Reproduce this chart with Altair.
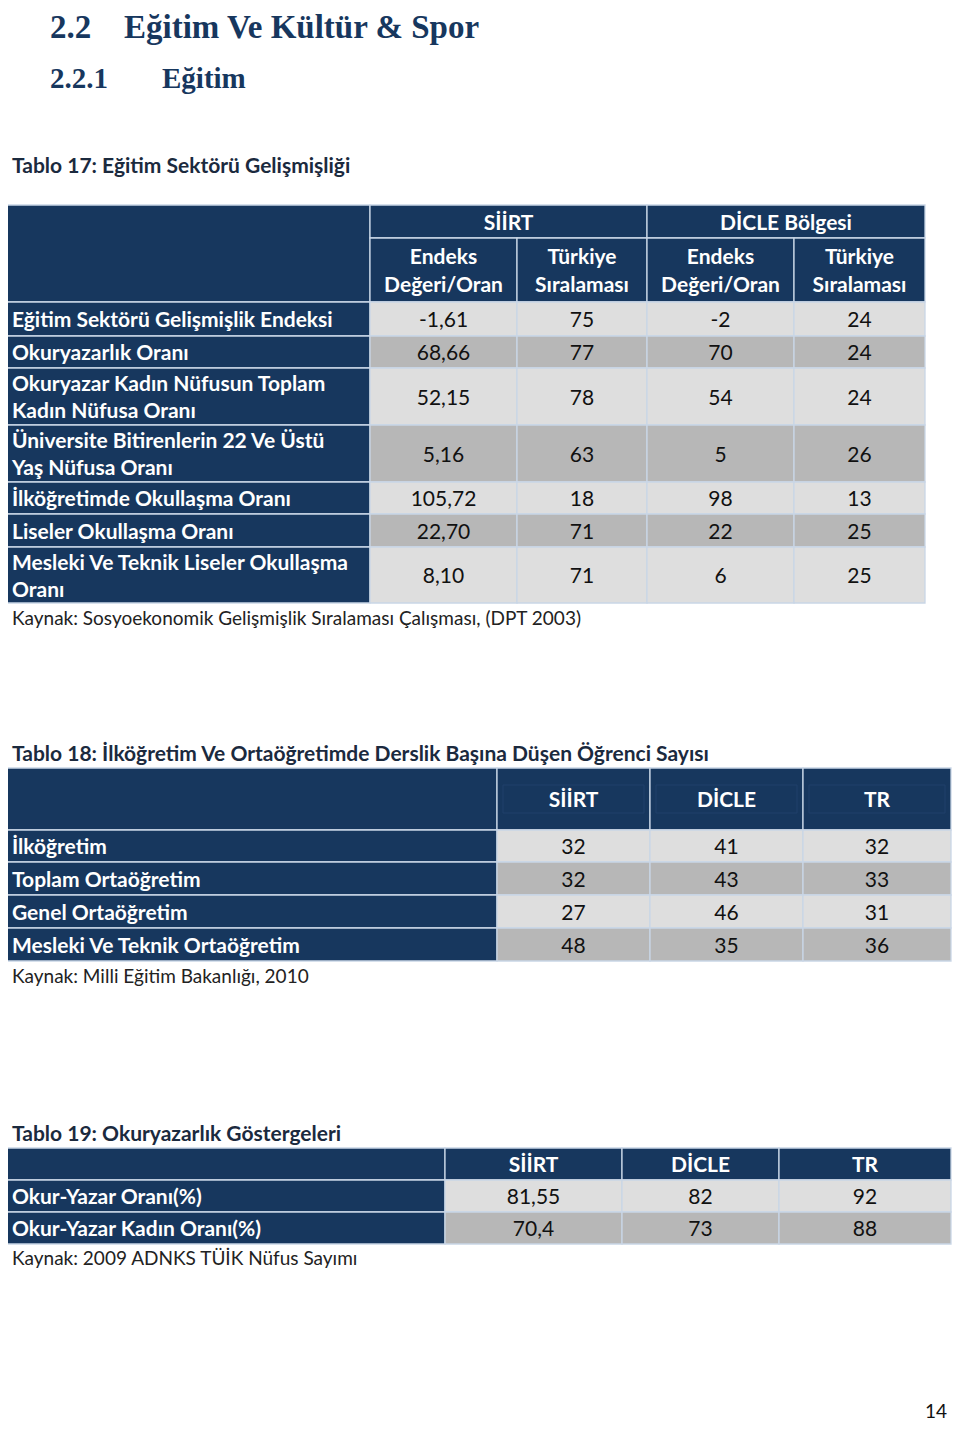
import altair as alt
import pandas as pd

# ---------------- data ----------------
heading_numbers = ["2.2", "2.2.1"]
heading_texts = ["Eğitim Ve Kültür & Spor", "Eğitim"]

t17_title = "Tablo 17: Eğitim Sektörü Gelişmişliği"
t17_groups = ["SİİRT", "DİCLE Bölgesi"]
t17_subheaders = ["Endeks\nDeğeri/Oran", "Türkiye\nSıralaması",
                  "Endeks\nDeğeri/Oran", "Türkiye\nSıralaması"]
t17_labels = [
    "Eğitim Sektörü Gelişmişlik Endeksi",
    "Okuryazarlık Oranı",
    "Okuryazar Kadın Nüfusun Toplam\nKadın Nüfusa Oranı",
    "Üniversite Bitirenlerin 22 Ve Üstü\nYaş Nüfusa Oranı",
    "İlköğretimde Okullaşma Oranı",
    "Liseler Okullaşma Oranı",
    "Mesleki Ve Teknik Liseler Okullaşma\nOranı",
]
t17_siirt_index = ["-1,61", "68,66", "52,15", "5,16", "105,72", "22,70", "8,10"]
t17_siirt_rank = ["75", "77", "78", "63", "18", "71", "71"]
t17_dicle_index = ["-2", "70", "54", "5", "98", "22", "6"]
t17_dicle_rank = ["24", "24", "24", "26", "13", "25", "25"]
t17_source = "Kaynak: Sosyoekonomik Gelişmişlik Sıralaması Çalışması, (DPT 2003)"

t18_title = "Tablo 18: İlköğretim Ve Ortaöğretimde Derslik Başına Düşen Öğrenci Sayısı"
t18_columns = ["SİİRT", "DİCLE", "TR"]
t18_labels = ["İlköğretim", "Toplam Ortaöğretim", "Genel Ortaöğretim",
              "Mesleki Ve Teknik Ortaöğretim"]
t18_siirt = ["32", "32", "27", "48"]
t18_dicle = ["41", "43", "46", "35"]
t18_tr = ["32", "33", "31", "36"]
t18_source = "Kaynak: Milli Eğitim Bakanlığı, 2010"

t19_title = "Tablo 19: Okuryazarlık Göstergeleri"
t19_columns = ["SİİRT", "DİCLE", "TR"]
t19_labels = ["Okur-Yazar Oranı(%)", "Okur-Yazar Kadın Oranı(%)"]
t19_siirt = ["81,55", "70,4"]
t19_dicle = ["82", "73"]
t19_tr = ["92", "88"]
t19_source = "Kaynak: 2009 ADNKS TÜİK Nüfus Sayımı"

page_number = "14"

# ---------------- layout ----------------
W, H = 944, 1415
NAVY = "#17375e"
LIGHT = "#dedede"
DARK = "#b7b7b7"
BORDER = "#c9d6e6"
TITLE_C = "#1b2a3e"
LH = 27
DY = 2

T17_X = [5, 370, 517, 647, 794, 925]
T17_HEAD_Y = [205, 238, 302]
T17_ROW_Y = [302, 336, 368, 425, 482, 514, 547, 603]
T18_X = [5, 497, 650, 803, 951]
T18_Y = [768, 830, 862, 895, 928, 961]
T19_X = [5, 445, 622, 779, 951]
T19_Y = [1148, 1180, 1212, 1244]

rects, inner = [], []
bold_left, bold_center, reg_center, reg_left, titles, heads = [], [], [], [], [], []


def mid(a, b):
    return (a + b) / 2


def block_y(center, text, lh=LH):
    n = text.count("\n") + 1
    return center - (n - 1) * lh / 2


# headings (alphabetic baseline)
heads.append(dict(x=50, y=38, t=heading_numbers[0], s=33))
heads.append(dict(x=124, y=38, t=heading_texts[0], s=33))
heads.append(dict(x=50, y=88, t=heading_numbers[1], s=29))
heads.append(dict(x=162, y=88, t=heading_texts[1], s=29))

# ---- table 17
titles.append(dict(x=12, y=165, t=t17_title))
rects.append(dict(x=T17_X[0], x2=T17_X[1], y=T17_HEAD_Y[0], y2=T17_HEAD_Y[2], f=NAVY))
for g, (a, b) in enumerate([(T17_X[1], T17_X[3]), (T17_X[3], T17_X[5])]):
    rects.append(dict(x=a, x2=b, y=T17_HEAD_Y[0], y2=T17_HEAD_Y[1], f=NAVY))
    bold_center.append(dict(x=mid(a, b), y=mid(T17_HEAD_Y[0], T17_HEAD_Y[1]), t=t17_groups[g]))
for c in range(4):
    a, b = T17_X[c + 1], T17_X[c + 2]
    rects.append(dict(x=a, x2=b, y=T17_HEAD_Y[1], y2=T17_HEAD_Y[2], f=NAVY))
    txt = t17_subheaders[c]
    bold_center.append(dict(x=mid(a, b), y=block_y(mid(T17_HEAD_Y[1], T17_HEAD_Y[2]), txt, 28), t=txt))
t17_cols = [t17_siirt_index, t17_siirt_rank, t17_dicle_index, t17_dicle_rank]
for r, lab in enumerate(t17_labels):
    y0, y1 = T17_ROW_Y[r], T17_ROW_Y[r + 1]
    rects.append(dict(x=T17_X[0], x2=T17_X[1], y=y0, y2=y1, f=NAVY))
    bold_left.append(dict(x=12, y=block_y(mid(y0, y1), lab), t=lab))
    for c in range(4):
        a, b = T17_X[c + 1], T17_X[c + 2]
        rects.append(dict(x=a, x2=b, y=y0, y2=y1, f=LIGHT if r % 2 == 0 else DARK))
        reg_center.append(dict(x=mid(a, b), y=mid(y0, y1), t=t17_cols[c][r]))
reg_left.append(dict(x=12, y=617, t=t17_source))

# ---- table 18
titles.append(dict(x=12, y=753, t=t18_title))
rects.append(dict(x=T18_X[0], x2=T18_X[1], y=T18_Y[0], y2=T18_Y[1], f=NAVY))
for c in range(3):
    a, b = T18_X[c + 1], T18_X[c + 2]
    rects.append(dict(x=a, x2=b, y=T18_Y[0], y2=T18_Y[1], f=NAVY))
    inner.append(dict(x=a + 6, x2=b - 6, y=785, y2=813))
    bold_center.append(dict(x=mid(a, b), y=799, t=t18_columns[c]))
t18_cols = [t18_siirt, t18_dicle, t18_tr]
for r, lab in enumerate(t18_labels):
    y0, y1 = T18_Y[r + 1], T18_Y[r + 2]
    rects.append(dict(x=T18_X[0], x2=T18_X[1], y=y0, y2=y1, f=NAVY))
    bold_left.append(dict(x=12, y=mid(y0, y1), t=lab))
    for c in range(3):
        a, b = T18_X[c + 1], T18_X[c + 2]
        rects.append(dict(x=a, x2=b, y=y0, y2=y1, f=LIGHT if r % 2 == 0 else DARK))
        reg_center.append(dict(x=mid(a, b), y=mid(y0, y1), t=t18_cols[c][r]))
reg_left.append(dict(x=12, y=975, t=t18_source))

# ---- table 19
titles.append(dict(x=12, y=1133, t=t19_title))
rects.append(dict(x=T19_X[0], x2=T19_X[1], y=T19_Y[0], y2=T19_Y[1], f=NAVY))
for c in range(3):
    a, b = T19_X[c + 1], T19_X[c + 2]
    rects.append(dict(x=a, x2=b, y=T19_Y[0], y2=T19_Y[1], f=NAVY))
    bold_center.append(dict(x=mid(a, b), y=mid(T19_Y[0], T19_Y[1]), t=t19_columns[c]))
t19_cols = [t19_siirt, t19_dicle, t19_tr]
for r, lab in enumerate(t19_labels):
    y0, y1 = T19_Y[r + 1], T19_Y[r + 2]
    rects.append(dict(x=T19_X[0], x2=T19_X[1], y=y0, y2=y1, f=NAVY))
    bold_left.append(dict(x=12, y=mid(y0, y1), t=lab))
    for c in range(3):
        a, b = T19_X[c + 1], T19_X[c + 2]
        rects.append(dict(x=a, x2=b, y=y0, y2=y1, f=LIGHT if r % 2 == 0 else DARK))
        reg_center.append(dict(x=mid(a, b), y=mid(y0, y1), t=t19_cols[c][r]))
reg_left.append(dict(x=12, y=1257, t=t19_source))

page = [dict(x=936, y=1410, t=page_number)]

# ---------------- chart ----------------
xs = alt.Scale(domain=[8, 8 + W], nice=False, zero=False)
ys = alt.Scale(domain=[8, 8 + H], nice=False, zero=False, reverse=True)


def xy():
    return dict(x=alt.X("x:Q", scale=xs, axis=None), y=alt.Y("y:Q", scale=ys, axis=None))


rect_layer = alt.Chart(pd.DataFrame(rects)).mark_rect(
    stroke=BORDER, strokeWidth=1.3
).encode(
    x2="x2:Q", y2="y2:Q", fill=alt.Fill("f:N", scale=None), **xy()
)
inner_layer = alt.Chart(pd.DataFrame(inner)).mark_rect(
    fillOpacity=0, stroke="#21416b", strokeWidth=1
).encode(x2="x2:Q", y2="y2:Q", **xy())


def text_layer(rows, **kw):
    base = dict(baseline="middle", lineBreak="\n", lineHeight=LH, dy=DY)
    base.update(kw)
    return alt.Chart(pd.DataFrame(rows)).mark_text(**base).encode(text="t:N", **xy())


head_layer = alt.Chart(pd.DataFrame(heads)).mark_text(
    align="left", baseline="alphabetic", font="Liberation Serif", fontWeight="bold", color=NAVY
).encode(text="t:N", size=alt.Size("s:Q", scale=None), **xy())

sub_rows = [r for r in bold_center if "\n" in r["t"]]
one_rows = [r for r in bold_center if "\n" not in r["t"]]

layers = [
    rect_layer,
    inner_layer,
    head_layer,
    text_layer(titles, align="left", font="Lato", fontSize=21, fontWeight="bold", color=TITLE_C),
    text_layer(one_rows, align="center", font="Lato", fontSize=21, fontWeight="bold", color="white"),
    text_layer(sub_rows, align="center", font="Lato", fontSize=21, fontWeight="bold", color="white",
               lineHeight=28),
    text_layer(bold_left, align="left", font="Lato", fontSize=21, fontWeight="bold", color="white"),
    text_layer(reg_center, align="center", font="Lato", fontSize=21, color="#111111"),
    text_layer(reg_left, align="left", font="Lato", fontSize=19, color="#222222"),
    text_layer(page, align="center", font="Lato", fontSize=19, color="#111111"),
]

chart = alt.layer(*layers).properties(
    width=W, height=H, padding=0, autosize="none", background="white"
).configure_view(stroke=None)

chart.save("out.html", embed_options={"renderer": "svg", "actions": False})
